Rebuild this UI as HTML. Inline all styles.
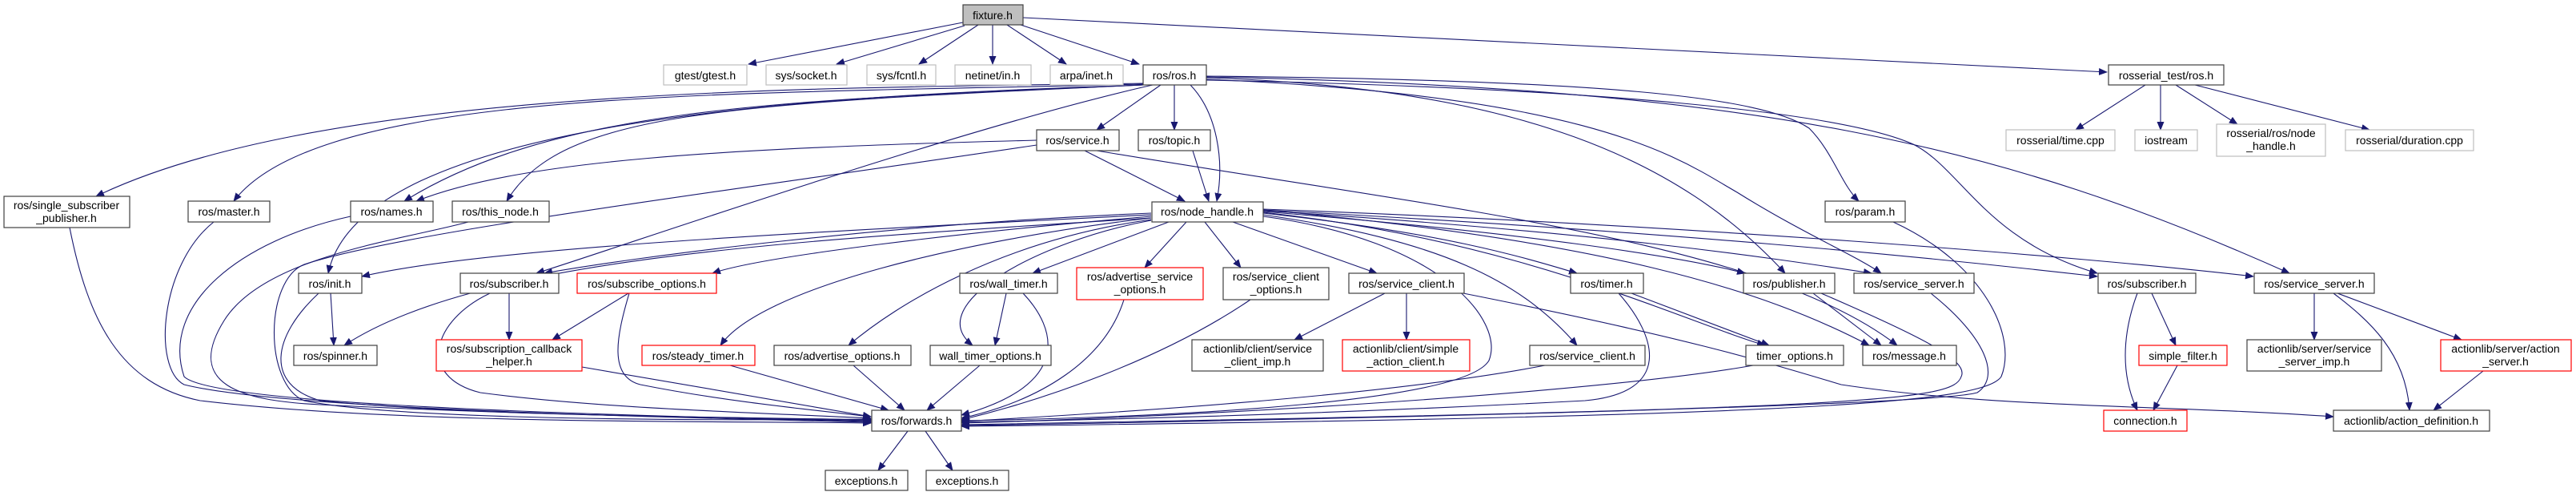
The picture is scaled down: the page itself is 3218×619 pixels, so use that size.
<!DOCTYPE html>
<html><head><meta charset="utf-8"><style>
html,body{margin:0;padding:0;background:#fff}
svg{display:block}
text{font-family:"Liberation Sans",sans-serif;font-size:14px;fill:#000;text-anchor:middle}
.n{fill:#fff;stroke:#404040;stroke-width:1.2}
.g{fill:#fff;stroke:#bfbfbf;stroke-width:1.2}
.r{fill:#fff;stroke:#ff0000;stroke-width:1.2}
.e{fill:none;stroke:#191970;stroke-width:1.1}
</style></head><body>
<svg width="3218" height="619" viewBox="0 0 3218 619" xmlns="http://www.w3.org/2000/svg">
<defs><marker id="a" markerWidth="11" markerHeight="9" refX="10" refY="4.5" orient="auto" markerUnits="userSpaceOnUse"><path d="M0,0 L11,4.5 L0,9 z" fill="#191970"/></marker></defs>
<g class="e" marker-end="url(#a)">
<path d="M1203,28 L935,80"/><path d="M1205,32 L1045,80"/><path d="M1222,31 L1148,80"/><path d="M1240,31 L1240,80"/><path d="M1258,31 L1332,80"/><path d="M1275,31 L1423,80"/><path d="M1278,22 L2632,90"/>
<path d="M2680,106 L2593,162"/><path d="M2699,106 L2699,162"/><path d="M2718,106 L2795,155"/><path d="M2742,106 L2960,162"/>
<path d="M1428,104 C1000,110 400,110 120,245"/><path d="M1428,105 C900,118 400,110 292,251"/><path d="M1428,106 C1000,125 700,130 505,251"/><path d="M1428,106 C900,130 700,140 633,251"/><path d="M1428,106 C1000,120 450,150 410,341"/><path d="M1440,106 C1200,160 800,300 670,341"/><path d="M1450,106 L1370,162"/><path d="M1467,106 L1467,162"/><path d="M1487,106 C1520,140 1530,200 1520,251"/><path d="M1507,95 C2000,100 2200,120 2260,160 C2290,190 2300,230 2322,251"/><path d="M1507,97 C1900,110 2100,200 2230,341"/><path d="M1507,99 C2000,120 2100,200 2170,240 C2250,290 2320,320 2350,341"/><path d="M1507,100 C2000,110 2300,140 2390,180 C2450,210 2480,300 2620,341"/><path d="M1507,96 C2200,110 2500,180 2860,341"/>
<path d="M1295,175 C900,185 650,200 520,251"/><path d="M1355,188 L1480,251"/><path d="M1370,188 C1800,260 2200,300 2370,431"/><path d="M1490,188 L1510,251"/>
<path d="M1438,268 C1000,290 600,310 452,345"/><path d="M1438,272 C1000,300 600,320 430,431"/><path d="M1438,266 C1100,280 800,320 680,341"/><path d="M1438,270 C1200,290 950,320 890,341"/><path d="M1438,272 C1200,300 950,360 900,431"/><path d="M1438,274 C1250,300 1120,380 1060,431"/><path d="M1438,275 C1300,300 1150,380 1215,431"/><path d="M1460,277 L1290,341"/><path d="M1482,277 L1430,334"/><path d="M1505,277 L1550,334"/><path d="M1540,277 L1720,341"/><path d="M1578,268 C1800,300 1900,350 1970,431"/><path d="M1578,266 C1800,290 1900,320 1970,341"/><path d="M1578,265 C1900,300 2100,400 2205,431"/><path d="M1578,264 C1900,290 2100,320 2180,341"/><path d="M1578,263 C2000,290 2200,320 2338,341"/><path d="M1578,262 C2000,300 2200,360 2335,431"/><path d="M1578,262 C2100,290 2400,320 2620,345"/><path d="M1578,261 C2100,280 2600,320 2815,345"/><path d="M1578,270 C1800,300 1880,400 1860,450 C1830,500 1500,520 1201,525"/>
<path d="M87,284 C110,400 150,480 250,500 C500,530 900,525 1088,528"/><path d="M267,277 C200,330 190,460 230,480 C350,510 800,520 1088,527"/><path d="M438,270 C300,300 200,380 230,470 C260,500 600,515 1088,526"/><path d="M585,277 C500,300 330,320 280,400 C230,480 300,500 400,505 C700,520 900,520 1088,525"/><path d="M1295,181 C900,240 500,290 380,330 C330,350 330,480 380,500 C500,525 900,525 1088,523"/><path d="M398,366 C340,420 330,480 400,500 C600,520 900,520 1088,524"/><path d="M612,366 C540,400 520,470 600,490 C750,510 950,515 1088,522"/><path d="M786,366 C770,420 760,470 800,480 C900,500 1000,510 1088,520"/><path d="M727,458 L1088,520"/><path d="M912,456 L1110,512"/><path d="M1066,456 L1130,512"/><path d="M1224,456 L1158,512"/><path d="M1257,366 L1243,431"/><path d="M1278,366 C1320,410 1340,480 1201,518"/><path d="M1404,374 C1380,450 1300,500 1201,522"/><path d="M1562,374 C1450,450 1300,500 1201,524"/><path d="M1930,456 C1700,500 1300,520 1201,526"/><path d="M2022,366 C2070,420 2090,490 1980,500 C1600,520 1300,525 1201,527"/><path d="M2038,366 L2210,431"/><path d="M2190,456 C2000,490 1500,520 1201,528"/><path d="M2265,366 L2350,431"/><path d="M2275,366 C2400,420 2460,450 2450,470 C2440,500 2350,510 1201,530"/><path d="M2412,366 C2480,420 2500,470 2470,490 C2400,510 1300,530 1201,531"/><path d="M2365,277 C2480,330 2520,420 2500,470 C2480,500 2300,520 1201,532"/>
<path d="M1730,366 L1617,424"/><path d="M1757,366 L1757,424"/><path d="M1828,366 C2100,420 2200,450 2300,480 C2500,510 2700,505 2915,520"/><path d="M413,366 L417,431"/><path d="M636,366 L636,424"/><path d="M785,366 L690,424"/><path d="M2670,366 C2650,420 2650,470 2670,512"/><path d="M2688,366 L2718,431"/><path d="M2720,456 L2690,512"/><path d="M2891,366 L2891,424"/><path d="M2920,366 L3075,424"/><path d="M2915,366 C2960,400 3005,440 3010,512"/><path d="M3102,463 L3040,512"/><path d="M1134,538 L1097,587"/><path d="M1156,538 L1190,587"/>
</g>
<rect x="1203" y="6" width="75" height="25" fill="#bfbfbf" stroke="#404040" stroke-width="1.2"/><text x="1240" y="24">fixture.h</text>
<rect class="g" x="829" y="81" width="104" height="25"/><text x="881" y="99">gtest/gtest.h</text>
<rect class="g" x="957" y="81" width="101" height="25"/><text x="1007" y="99">sys/socket.h</text>
<rect class="g" x="1083" y="81" width="86" height="25"/><text x="1126" y="99">sys/fcntl.h</text>
<rect class="g" x="1193" y="81" width="95" height="25"/><text x="1240" y="99">netinet/in.h</text>
<rect class="g" x="1312" y="81" width="91" height="25"/><text x="1357" y="99">arpa/inet.h</text>
<rect class="n" x="1428" y="81" width="79" height="25"/><text x="1467" y="99">ros/ros.h</text>
<rect class="n" x="2634" y="81" width="144" height="25"/><text x="2706" y="99">rosserial_test/ros.h</text>
<rect class="g" x="2506" y="162" width="136" height="26"/><text x="2574" y="180">rosserial/time.cpp</text>
<rect class="g" x="2667" y="162" width="78" height="26"/><text x="2706" y="180">iostream</text>
<rect class="g" x="2769" y="155" width="136" height="40"/><text x="2837" y="171">rosserial/ros/node</text><text x="2837" y="187">_handle.h</text>
<rect class="g" x="2930" y="162" width="160" height="26"/><text x="3010" y="180">rosserial/duration.cpp</text>
<rect class="n" x="1295" y="162" width="103" height="26"/><text x="1346" y="180">ros/service.h</text>
<rect class="n" x="1422" y="162" width="90" height="26"/><text x="1467" y="180">ros/topic.h</text>
<rect class="n" x="5" y="245" width="157" height="39"/><text x="83" y="261">ros/single_subscriber</text><text x="83" y="277">_publisher.h</text>
<rect class="n" x="235" y="251" width="102" height="26"/><text x="286" y="269">ros/master.h</text>
<rect class="n" x="438" y="251" width="103" height="26"/><text x="489" y="269">ros/names.h</text>
<rect class="n" x="565" y="251" width="121" height="26"/><text x="625" y="269">ros/this_node.h</text>
<rect class="n" x="1439" y="252" width="139" height="25"/><text x="1508" y="269">ros/node_handle.h</text>
<rect class="n" x="2280" y="251" width="100" height="26"/><text x="2330" y="269">ros/param.h</text>
<rect class="n" x="373" y="341" width="79" height="25"/><text x="412" y="359">ros/init.h</text>
<rect class="n" x="575" y="341" width="123" height="25"/><text x="636" y="359">ros/subscriber.h</text>
<rect class="r" x="721" y="341" width="174" height="25"/><text x="808" y="359">ros/subscribe_options.h</text>
<rect class="n" x="1199" y="341" width="122" height="25"/><text x="1260" y="359">ros/wall_timer.h</text>
<rect class="r" x="1345" y="334" width="158" height="40"/><text x="1424" y="350">ros/advertise_service</text><text x="1424" y="366">_options.h</text>
<rect class="n" x="1528" y="334" width="132" height="40"/><text x="1594" y="350">ros/service_client</text><text x="1594" y="366">_options.h</text>
<rect class="n" x="1685" y="341" width="144" height="25"/><text x="1757" y="359">ros/service_client.h</text>
<rect class="n" x="1962" y="341" width="91" height="25"/><text x="2007" y="359">ros/timer.h</text>
<rect class="n" x="2178" y="341" width="114" height="25"/><text x="2235" y="359">ros/publisher.h</text>
<rect class="n" x="2316" y="341" width="150" height="25"/><text x="2391" y="359">ros/service_server.h</text>
<rect class="n" x="2621" y="341" width="122" height="25"/><text x="2682" y="359">ros/subscriber.h</text>
<rect class="n" x="2816" y="341" width="150" height="25"/><text x="2891" y="359">ros/service_server.h</text>
<rect class="n" x="367" y="431" width="104" height="25"/><text x="419" y="449">ros/spinner.h</text>
<rect class="r" x="545" y="424" width="182" height="39"/><text x="636" y="440">ros/subscription_callback</text><text x="636" y="456">_helper.h</text>
<rect class="r" x="802" y="431" width="141" height="25"/><text x="872" y="449">ros/steady_timer.h</text>
<rect class="n" x="967" y="431" width="171" height="25"/><text x="1052" y="449">ros/advertise_options.h</text>
<rect class="n" x="1162" y="431" width="151" height="25"/><text x="1237" y="449">wall_timer_options.h</text>
<rect class="n" x="1489" y="424" width="164" height="39"/><text x="1571" y="440">actionlib/client/service</text><text x="1571" y="456">_client_imp.h</text>
<rect class="r" x="1677" y="424" width="159" height="39"/><text x="1756" y="440">actionlib/client/simple</text><text x="1756" y="456">_action_client.h</text>
<rect class="n" x="1911" y="431" width="144" height="25"/><text x="1983" y="449">ros/service_client.h</text>
<rect class="n" x="2181" y="431" width="122" height="25"/><text x="2242" y="449">timer_options.h</text>
<rect class="n" x="2327" y="431" width="117" height="25"/><text x="2385" y="449">ros/message.h</text>
<rect class="r" x="2672" y="431" width="110" height="25"/><text x="2727" y="449">simple_filter.h</text>
<rect class="n" x="2807" y="424" width="168" height="39"/><text x="2891" y="440">actionlib/server/service</text><text x="2891" y="456">_server_imp.h</text>
<rect class="r" x="3049" y="424" width="163" height="39"/><text x="3130" y="440">actionlib/server/action</text><text x="3130" y="456">_server.h</text>
<rect class="n" x="1089" y="512" width="112" height="26"/><text x="1145" y="530">ros/forwards.h</text>
<rect class="r" x="2628" y="512" width="104" height="26"/><text x="2680" y="530">connection.h</text>
<rect class="n" x="2915" y="512" width="195" height="26"/><text x="3012" y="530">actionlib/action_definition.h</text>
<rect class="n" x="1031" y="587" width="103" height="25"/><text x="1082" y="605">exceptions.h</text>
<rect class="n" x="1157" y="587" width="103" height="25"/><text x="1208" y="605">exceptions.h</text>
</svg>
</body></html>
